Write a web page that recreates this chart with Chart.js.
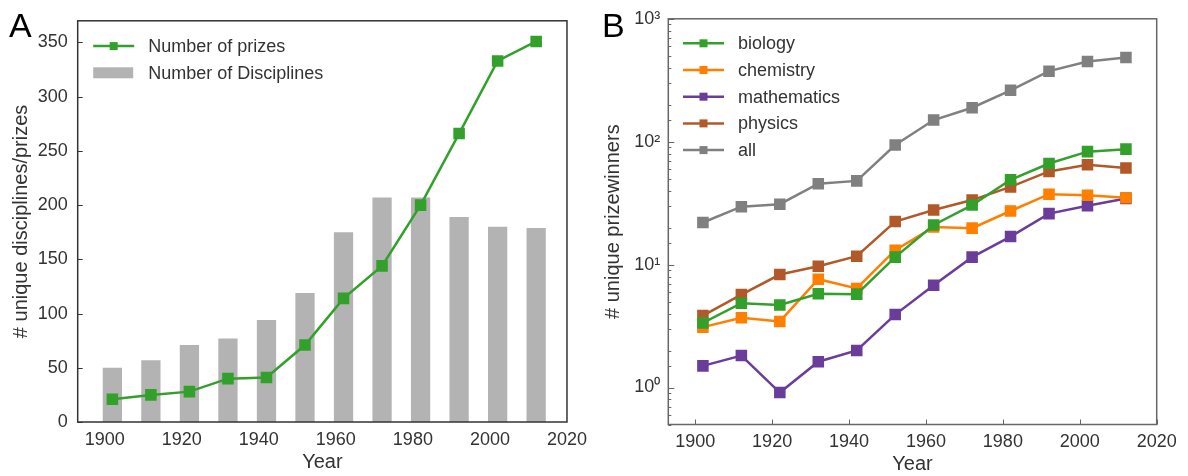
<!DOCTYPE html>
<html>
<head>
<meta charset="utf-8">
<script src="https://cdn.jsdelivr.net/npm/chart.js@4/dist/chart.umd.min.js"></script>
<style>
  body { margin: 0; background: #fff; }
  .panel { position: absolute; top: 0; width: 594px; height: 476px; }
</style>
</head>
<body>
<div class="panel" style="left:0"><canvas id="chartA"></canvas></div>
<div class="panel" style="left:594px"><canvas id="chartB"></canvas></div>
<script>
// decade midpoints
let years = [1902, 1912, 1922, 1932, 1942, 1952, 1962, 1972, 1982, 1992, 2002, 2012]

// panel A
let prizes = [21, 25, 28, 40, 41, 71, 114, 144, 200, 266, 333, 351]
let disciplines = [50, 57, 71, 77, 94, 119, 175, 207, 207, 189, 180, 179]

// panel B (log scale)
let biology = [3.35, 4.85, 4.7, 5.8, 5.75, 11.5, 21, 30.5, 49, 66.5, 83, 87]
let chemistry = [3.1, 3.7, 3.45, 7.6, 6.4, 13.1, 20.2, 19.8, 27.3, 37.4, 36.7, 35]
let mathematics = [1.5, 1.82, 0.91, 1.62, 2.0, 3.92, 6.8, 11.5, 16.9, 26, 30.1, 34.5]
let physics = [3.85, 5.7, 8.3, 9.7, 11.7, 22.4, 27.8, 33.5, 42.9, 57.3, 64.9, 61]
let all = [22, 29.6, 31, 45.5, 48, 94, 150, 189, 262, 375, 449, 484]

let xTicks = [1900, 1920, 1940, 1960, 1980, 2000, 2020]

const pts = (vals) => vals.map((v, i) => ({ x: years[i], y: v }))

Chart.defaults.font.family = "'Liberation Sans', Arial, sans-serif"
Chart.defaults.color = '#333'
Chart.defaults.animation = false

// box around the plot + inward tick marks
const frame = {
    id: 'frame',
    afterDatasetsDraw(chart, args, opts) {
        const { ctx, chartArea: a } = chart
        ctx.save()
        ctx.strokeStyle = opts.color
        ctx.lineWidth = 1.5
        ctx.strokeRect(a.left, a.top, a.right - a.left, a.bottom - a.top)
        ctx.lineWidth = 1
        for (const id of ['x', 'y']) {
            const len = opts[id]
            if (!len) continue
            const s = chart.scales[id]
            s.ticks.forEach(t => {
                const lg = Math.log10(t.value)
                const l = (s.type === 'logarithmic' && Math.abs(lg - Math.round(lg)) > 1e-9) ? len / 2 : len
                const p = Math.round(s.getPixelForValue(t.value)) + 0.5
                ctx.beginPath()
                if (id === 'x') { ctx.moveTo(p, a.bottom); ctx.lineTo(p, a.bottom - l) }
                else { ctx.moveTo(a.left, p); ctx.lineTo(a.left + l, p) }
                ctx.stroke()
            })
        }
        ctx.restore()
    }
}

// legend drawn inside the plot area
const innerLegend = {
    id: 'innerLegend',
    afterDraw(chart, args, opts) {
        const { ctx, chartArea: a } = chart
        ctx.save()
        ctx.font = "18px 'Liberation Sans', Arial, sans-serif"
        ctx.textBaseline = 'middle'
        chart.data.datasets.forEach((ds, i) => {
            const x0 = a.left + opts.left
            const y = a.top + opts.top + i * opts.row
            if (ds.type === 'bar') {
                ctx.fillStyle = ds.backgroundColor
                ctx.fillRect(x0, y - 5.5, 40, 11)
            } else {
                ctx.strokeStyle = ds.borderColor
                ctx.lineWidth = ds.borderWidth
                ctx.beginPath(); ctx.moveTo(x0, y); ctx.lineTo(x0 + 41, y); ctx.stroke()
                ctx.fillStyle = ds.borderColor
                ctx.fillRect(x0 + 20.5 - 4, y - 4, 8, 8)
            }
            ctx.fillStyle = '#333'
            ctx.fillText(ds.label, x0 + 55, y + 1)
        })
        ctx.restore()
    }
}

// panel letter
const letter = {
    id: 'letter',
    afterDraw(chart, args, opts) {
        const ctx = chart.ctx
        ctx.save()
        ctx.font = "34px 'Liberation Sans', Arial, sans-serif"
        ctx.fillStyle = '#000'
        ctx.textBaseline = 'alphabetic'
        ctx.fillText(opts.text, opts.x, opts.y)
        ctx.restore()
    }
}

const tickFont = { size: 18 }
const titleFont = { size: 20 }

let chartA = new Chart(document.getElementById('chartA').getContext('2d'), {
    type: 'bar',
    data: {
        datasets: [{
            type: 'line',
            label: 'Number of prizes',
            data: pts(prizes),
            borderColor: '#33a02c',
            backgroundColor: '#33a02c',
            borderWidth: 2.5,
            pointStyle: 'rect',
            pointRadius: 6.4,
            order: 0
        }, {
            type: 'bar',
            label: 'Number of Disciplines',
            data: pts(disciplines),
            backgroundColor: '#b3b3b3',
            barPercentage: 0.5,
            categoryPercentage: 1,
            order: 1
        }]
    },
    options: {
        responsive: true,
        maintainAspectRatio: false,
        layout: { padding: { left: 0, right: 27, top: 13, bottom: 0 } },
        plugins: {
            legend: { display: false },
            tooltip: { enabled: false },
            frame: { color: '#333', y: 5 },
            innerLegend: { left: 15.5, top: 25.3, row: 26.7 },
            letter: { text: 'A', x: 9, y: 37 }
        },
        scales: {
            x: {
                type: 'linear',
                min: 1893,
                max: 2020,
                offset: false,
                afterBuildTicks: s => { s.ticks = xTicks.map(v => ({ value: v })) },
                afterFit: s => { s.height = 54 },
                ticks: { font: tickFont, padding: 7, maxRotation: 0, callback: v => String(v) },
                grid: { display: false, drawTicks: false },
                border: { display: false },
                title: { display: true, text: 'Year', font: titleFont, padding: { top: 0, bottom: 2 } }
            },
            y: {
                min: 0,
                max: 370,
                afterBuildTicks: s => { s.ticks = s.ticks.filter(t => t.value % 50 === 0) },
                afterFit: s => { s.width = 77.7 },
                ticks: { font: tickFont, stepSize: 50, padding: 10 },
                grid: { display: false, drawTicks: false },
                border: { display: false },
                title: { display: true, text: '# unique disciplines/prizes', font: titleFont, padding: { top: 9, bottom: 0 } }
            }
        }
    },
    plugins: [frame, innerLegend, letter]
})

const sup = { 0: '\u2070', 1: '\u00B9', 2: '\u00B2', 3: '\u00B3' }
const lineSet = (label, vals, color) => ({
    label: label,
    data: pts(vals),
    borderColor: color,
    backgroundColor: color,
    borderWidth: 2.5,
    pointStyle: 'rect',
    pointRadius: 6.4
})

let chartB = new Chart(document.getElementById('chartB').getContext('2d'), {
    type: 'line',
    data: {
        datasets: [
            lineSet('biology', biology, '#33a02c'),
            lineSet('chemistry', chemistry, '#ff7f00'),
            lineSet('mathematics', mathematics, '#6a3d9a'),
            lineSet('physics', physics, '#b15928'),
            lineSet('all', all, '#808080')
        ]
    },
    options: {
        responsive: true,
        maintainAspectRatio: false,
        layout: { padding: { left: 0, right: 31.3, top: 15.5, bottom: 0 } },
        plugins: {
            legend: { display: false },
            tooltip: { enabled: false },
            frame: { color: '#666', x: 5, y: 6 },
            innerLegend: { left: 14.7, top: 24.5, row: 26.7 },
            letter: { text: 'B', x: 8, y: 37 }
        },
        scales: {
            x: {
                type: 'linear',
                min: 1893,
                max: 2020,
                afterBuildTicks: s => { s.ticks = xTicks.map(v => ({ value: v })) },
                afterFit: s => { s.height = 51.5 },
                ticks: { font: tickFont, padding: 7, maxRotation: 0, callback: v => String(v) },
                grid: { display: false, drawTicks: false },
                border: { display: false },
                title: { display: true, text: 'Year', font: titleFont, padding: { top: 0, bottom: 0 } }
            },
            y: {
                type: 'logarithmic',
                min: 0.5,
                max: 1000,
                afterFit: s => { s.width = 74.3 },
                ticks: {
                    font: tickFont,
                    padding: 8,
                    autoSkip: false,
                    callback: v => {
                        const lg = Math.log10(v)
                        return Math.abs(lg - Math.round(lg)) < 1e-9 ? '10' + sup[Math.round(lg)] : ''
                    }
                },
                grid: { display: false, drawTicks: false },
                border: { display: false },
                title: { display: true, text: '# unique prizewinners', font: titleFont, padding: { top: 7, bottom: 0 } }
            }
        }
    },
    plugins: [frame, innerLegend, letter]
})
</script>
</body>
</html>
